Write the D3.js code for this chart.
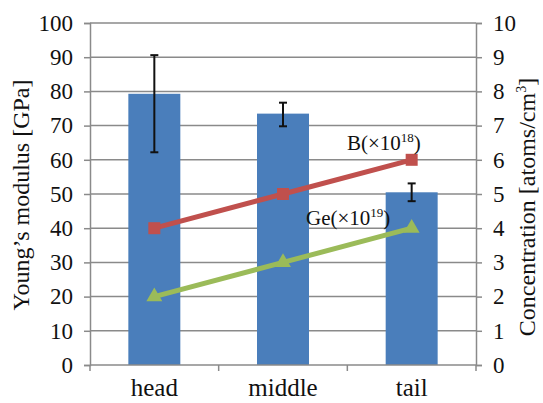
<!DOCTYPE html>
<html><head><meta charset="utf-8">
<script src="https://cdn.jsdelivr.net/npm/d3@7"></script>
<style>body{margin:0;background:#fff}svg{display:block}svg text{font-family:"Liberation Serif","Tinos","DejaVu Serif","Times New Roman",Times,serif !important;fill:#111}</style>
</head><body><svg id="c" width="543" height="403"></svg>
<script>
const categories = ["head", "middle", "tail"];
const modulus = [79.3, 73.5, 50.5];
const errLow = [62.2, 69.8, 47.9];
const errHigh = [90.6, 76.7, 53.1];
const boronConc = [4, 5, 6];
const geConc = [2, 3, 4];
const leftTicks = [0,10,20,30,40,50,60,70,80,90,100];
const rightTicks = [0,1,2,3,4,5,6,7,8,9,10];

const svg = d3.select("#c");
const L = 90, R = 476, T = 23, B = 365;
const x = d3.scaleBand().domain(categories).range([L, R]).paddingInner(0).paddingOuter(0);
const yL = d3.scaleLinear().domain([0, 100]).range([B, T]);
const yR = d3.scaleLinear().domain([0, 10]).range([B, T]);
const grid = "#8a8a8a";

svg.append("g").selectAll("line").data(leftTicks.filter(d => d > 0)).join("line")
  .attr("x1", L).attr("x2", R).attr("y1", d => yL(d)).attr("y2", d => yL(d))
  .attr("stroke", grid).attr("stroke-width", 1.5);

const bw = x.bandwidth() * 0.404;
svg.append("g").selectAll("rect").data(categories).join("rect")
  .attr("x", d => x(d) + x.bandwidth()/2 - bw/2)
  .attr("width", bw)
  .attr("y", (d, i) => yL(modulus[i]))
  .attr("height", (d, i) => yL(0) - yL(modulus[i]))
  .attr("fill", "#4a7ebb");

const axL = svg.append("g").attr("transform", `translate(${L},0)`)
  .call(d3.axisLeft(yL).tickValues(leftTicks).tickSize(6).tickPadding(11));
const axR = svg.append("g").attr("transform", `translate(${R},0)`)
  .call(d3.axisRight(yR).tickValues(rightTicks).tickSize(6).tickPadding(11));
const axB = svg.append("g").attr("transform", `translate(0,${B})`)
  .call(d3.axisBottom(x).tickSize(0).tickPadding(13));
[axL, axR, axB].forEach(a => {
  a.attr("font-family", null);
  a.selectAll(".domain").attr("stroke", grid).attr("stroke-width", 1.5);
  a.selectAll(".tick line").attr("stroke", grid).attr("stroke-width", 1.5);
  a.selectAll("text").style("font-size", "23px").attr("fill", "#111");
});
axB.selectAll("text").style("font-size", "25px");
axB.select(".domain").attr("d", `M${L},0H${R}`);
const bounds = [L, ...categories.slice(1).map(c => x(c)), R];
svg.append("g").selectAll("line").data(bounds).join("line")
  .attr("x1", d => d).attr("x2", d => d).attr("y1", B).attr("y2", B + 6)
  .attr("stroke", grid).attr("stroke-width", 1.5);

const cx = d => x(d) + x.bandwidth()/2;
const eg = svg.append("g").attr("stroke", "#111").attr("stroke-width", 2);
categories.forEach((c, i) => {
  eg.append("line").attr("x1", cx(c)).attr("x2", cx(c)).attr("y1", yL(errLow[i])).attr("y2", yL(errHigh[i]));
  eg.append("line").attr("x1", cx(c)-4).attr("x2", cx(c)+4).attr("y1", yL(errLow[i])).attr("y2", yL(errLow[i]));
  eg.append("line").attr("x1", cx(c)-4).attr("x2", cx(c)+4).attr("y1", yL(errHigh[i])).attr("y2", yL(errHigh[i]));
});

const line = arr => d3.line().x((d, i) => cx(categories[i])).y(d => yR(d))(arr);
svg.append("path").attr("d", line(boronConc)).attr("fill", "none").attr("stroke", "#c0504d").attr("stroke-width", 5);
svg.append("g").selectAll("rect").data(boronConc).join("rect")
  .attr("x", (d, i) => cx(categories[i]) - 6).attr("y", d => yR(d) - 6)
  .attr("width", 12).attr("height", 12).attr("fill", "#c0504d");
svg.append("path").attr("d", line(geConc)).attr("fill", "none").attr("stroke", "#9bbb59").attr("stroke-width", 5);
svg.append("g").selectAll("path.tri").data(geConc).join("path")
  .attr("transform", (d, i) => `translate(${cx(categories[i])},${yR(d)})`)
  .attr("d", d3.symbol(d3.symbolTriangle, 110)).attr("fill", "#9bbb59");

const bl = svg.append("text").attr("x", 347).attr("y", 150).style("font-size", "21px");
bl.append("tspan").text("B(×10");
bl.append("tspan").attr("dy", -8).style("font-size", "13px").text("18");
bl.append("tspan").attr("dy", 8).text(")");
const gl = svg.append("text").attr("x", 306).attr("y", 225).style("font-size", "21px");
gl.append("tspan").text("Ge(×10");
gl.append("tspan").attr("dy", -8).style("font-size", "13px").text("19");
gl.append("tspan").attr("dy", 8).text(")");

svg.append("text").attr("transform", `translate(29,195) rotate(-90)`)
  .attr("text-anchor", "middle").style("font-size", "24px").text("Young’s modulus [GPa]");
const rt = svg.append("text").attr("transform", `translate(535,207) rotate(-90)`)
  .attr("text-anchor", "middle").style("font-size", "24px");
rt.append("tspan").text("Concentration [atoms/cm");
rt.append("tspan").attr("dy", -9).style("font-size", "14px").text("3");
rt.append("tspan").attr("dy", 9).text("]");
</script></body></html>
